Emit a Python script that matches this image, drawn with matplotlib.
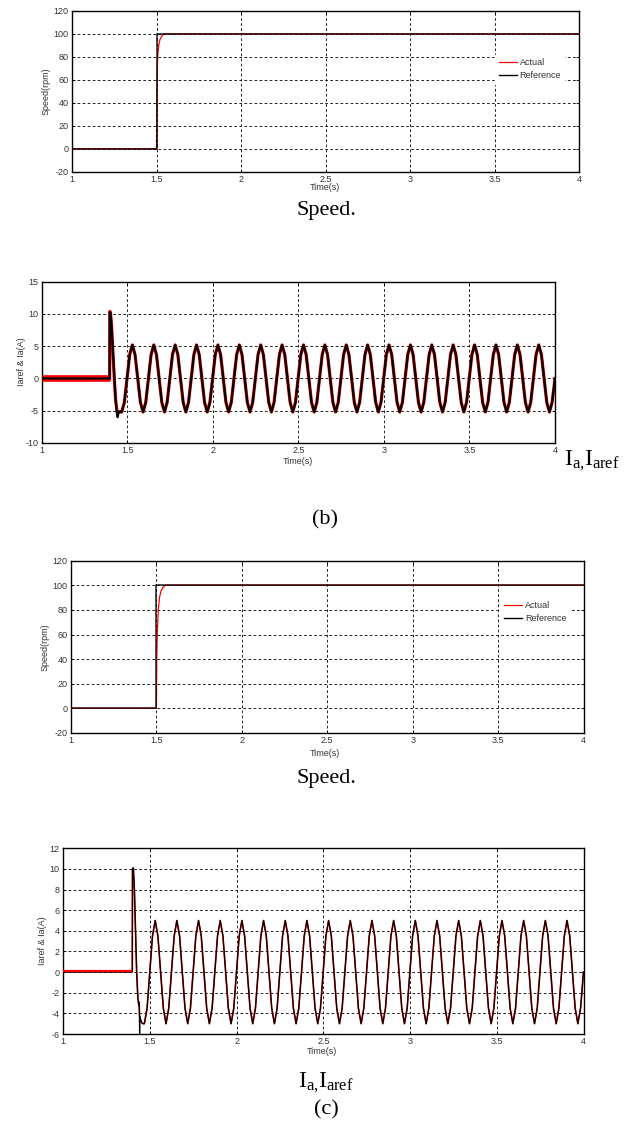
import matplotlib
matplotlib.use("Agg")
import matplotlib.pyplot as plt

plt.rcParams["axes.unicode_minus"] = False

W, H = 632, 1126

# ---- data ----
xticks = [1, 1.5, 2, 2.5, 3, 3.5, 4]
xtick_labels = ["1", "1.5", "2", "2.5", "3", "3.5", "4"]

# speed step, reference and actual
t_spd_ref = [1.0, 1.5, 1.5, 4.0]
spd_ref = [0, 0, 100, 100]
t_spd_b = [1.0, 1.5, 1.5015, 1.503, 1.507, 1.513, 1.52, 1.53, 1.545, 4.0]
spd_act_b = [0, 0, 40, 60, 80, 90, 95, 98, 100, 100]
t_spd_c = [1.0, 1.5, 1.502, 1.505, 1.511, 1.518, 1.526, 1.537, 1.552, 4.0]
spd_act_c = [0, 0, 40, 60, 80, 90, 95, 98, 100, 100]

# current start-up transient (before the steady oscillation)
t_tr_b = [1.0, 1.397, 1.398, 1.402, 1.408, 1.416, 1.424, 1.432, 1.440, 1.444, 1.450, 1.458]
iaref_tr_b = [0, 0, 10.3, 10.2, 8.3, 4.3, 0.0, -3.4, -5.5, -6.0, -5.1, -5.1]
ia_tr_b = [0, 0, 10.4, 10.2, 8.3, 4.3, 0.0, -3.3, -5.0, -5.2, -5.3, -5.2]

t_tr_c = [1.0, 1.398, 1.399, 1.404, 1.410, 1.417, 1.423, 1.430, 1.436, 1.438, 1.440, 1.442,
          1.446, 1.452, 1.460]
iaref_tr_c = [0, 0, 10.0, 10.1, 8.0, 3.5, 0.0, -2.5, -3.2, -2.9, -6.0, -4.3, -4.6, -4.9, -5.0]
ia_tr_c = [0.1, 0.1, 10.0, 10.1, 8.0, 3.5, 0.0, -2.5, -3.3, -3.3, -4.2, -4.5, -4.7, -4.9, -5.0]

# steady oscillation, sampled every 1/8 of a cycle (8 Hz)
t_wave = [
    1.4675, 1.4831, 1.4988, 1.5144, 1.5300, 1.5456, 1.5613, 1.5769,
    1.5925, 1.6081, 1.6238, 1.6394, 1.6550, 1.6706, 1.6863, 1.7019,
    1.7175, 1.7331, 1.7488, 1.7644, 1.7800, 1.7956, 1.8113, 1.8269,
    1.8425, 1.8581, 1.8738, 1.8894, 1.9050, 1.9206, 1.9363, 1.9519,
    1.9675, 1.9831, 1.9988, 2.0144, 2.0300, 2.0456, 2.0613, 2.0769,
    2.0925, 2.1081, 2.1238, 2.1394, 2.1550, 2.1706, 2.1863, 2.2019,
    2.2175, 2.2331, 2.2488, 2.2644, 2.2800, 2.2956, 2.3113, 2.3269,
    2.3425, 2.3581, 2.3738, 2.3894, 2.4050, 2.4206, 2.4363, 2.4519,
    2.4675, 2.4831, 2.4988, 2.5144, 2.5300, 2.5456, 2.5613, 2.5769,
    2.5925, 2.6081, 2.6238, 2.6394, 2.6550, 2.6706, 2.6863, 2.7019,
    2.7175, 2.7331, 2.7488, 2.7644, 2.7800, 2.7956, 2.8113, 2.8269,
    2.8425, 2.8581, 2.8738, 2.8894, 2.9050, 2.9206, 2.9363, 2.9519,
    2.9675, 2.9831, 2.9988, 3.0144, 3.0300, 3.0456, 3.0613, 3.0769,
    3.0925, 3.1081, 3.1238, 3.1394, 3.1550, 3.1706, 3.1863, 3.2019,
    3.2175, 3.2331, 3.2488, 3.2644, 3.2800, 3.2956, 3.3113, 3.3269,
    3.3425, 3.3581, 3.3738, 3.3894, 3.4050, 3.4206, 3.4363, 3.4519,
    3.4675, 3.4831, 3.4988, 3.5144, 3.5300, 3.5456, 3.5613, 3.5769,
    3.5925, 3.6081, 3.6238, 3.6394, 3.6550, 3.6706, 3.6863, 3.7019,
    3.7175, 3.7331, 3.7488, 3.7644, 3.7800, 3.7956, 3.8113, 3.8269,
    3.8425, 3.8581, 3.8738, 3.8894, 3.9050, 3.9206, 3.9363, 3.9519,
    3.9675, 3.9831, 4.0000,
]
ia_wave_b = [
    -5.2, -3.7, 0.0, 3.7, 5.2, 3.7, 0.0, -3.7,
    -5.2, -3.7, 0.0, 3.7, 5.2, 3.7, 0.0, -3.7,
    -5.2, -3.7, 0.0, 3.7, 5.2, 3.7, 0.0, -3.7,
    -5.2, -3.7, 0.0, 3.7, 5.2, 3.7, 0.0, -3.7,
    -5.2, -3.7, 0.0, 3.7, 5.2, 3.7, 0.0, -3.7,
    -5.2, -3.7, 0.0, 3.7, 5.2, 3.7, 0.0, -3.7,
    -5.2, -3.7, 0.0, 3.7, 5.2, 3.7, 0.0, -3.7,
    -5.2, -3.7, 0.0, 3.7, 5.2, 3.7, 0.0, -3.7,
    -5.2, -3.7, 0.0, 3.7, 5.2, 3.7, 0.0, -3.7,
    -5.2, -3.7, 0.0, 3.7, 5.2, 3.7, 0.0, -3.7,
    -5.2, -3.7, 0.0, 3.7, 5.2, 3.7, 0.0, -3.7,
    -5.2, -3.7, 0.0, 3.7, 5.2, 3.7, 0.0, -3.7,
    -5.2, -3.7, 0.0, 3.7, 5.2, 3.7, 0.0, -3.7,
    -5.2, -3.7, 0.0, 3.7, 5.2, 3.7, 0.0, -3.7,
    -5.2, -3.7, 0.0, 3.7, 5.2, 3.7, 0.0, -3.7,
    -5.2, -3.7, 0.0, 3.7, 5.2, 3.7, 0.0, -3.7,
    -5.2, -3.7, 0.0, 3.7, 5.2, 3.7, 0.0, -3.7,
    -5.2, -3.7, 0.0, 3.7, 5.2, 3.7, 0.0, -3.7,
    -5.2, -3.7, 0.0, 3.7, 5.2, 3.7, 0.0, -3.7,
    -5.2, -3.7, 0.0, 3.7, 5.2, 3.7, 0.0, -3.7,
    -5.2, -3.7, 0.0,
]
ia_wave_c = [
    -5.0, -3.5, 0.0, 3.5, 5.0, 3.5, 0.0, -3.5,
    -5.0, -3.5, 0.0, 3.5, 5.0, 3.5, 0.0, -3.5,
    -5.0, -3.5, 0.0, 3.5, 5.0, 3.5, 0.0, -3.5,
    -5.0, -3.5, 0.0, 3.5, 5.0, 3.5, 0.0, -3.5,
    -5.0, -3.5, 0.0, 3.5, 5.0, 3.5, 0.0, -3.5,
    -5.0, -3.5, 0.0, 3.5, 5.0, 3.5, 0.0, -3.5,
    -5.0, -3.5, 0.0, 3.5, 5.0, 3.5, 0.0, -3.5,
    -5.0, -3.5, 0.0, 3.5, 5.0, 3.5, 0.0, -3.5,
    -5.0, -3.5, 0.0, 3.5, 5.0, 3.5, 0.0, -3.5,
    -5.0, -3.5, 0.0, 3.5, 5.0, 3.5, 0.0, -3.5,
    -5.0, -3.5, 0.0, 3.5, 5.0, 3.5, 0.0, -3.5,
    -5.0, -3.5, 0.0, 3.5, 5.0, 3.5, 0.0, -3.5,
    -5.0, -3.5, 0.0, 3.5, 5.0, 3.5, 0.0, -3.5,
    -5.0, -3.5, 0.0, 3.5, 5.0, 3.5, 0.0, -3.5,
    -5.0, -3.5, 0.0, 3.5, 5.0, 3.5, 0.0, -3.5,
    -5.0, -3.5, 0.0, 3.5, 5.0, 3.5, 0.0, -3.5,
    -5.0, -3.5, 0.0, 3.5, 5.0, 3.5, 0.0, -3.5,
    -5.0, -3.5, 0.0, 3.5, 5.0, 3.5, 0.0, -3.5,
    -5.0, -3.5, 0.0, 3.5, 5.0, 3.5, 0.0, -3.5,
    -5.0, -3.5, 0.0, 3.5, 5.0, 3.5, 0.0, -3.5,
    -5.0, -3.5, 0.0,
]

SANS = ["Liberation Sans", "DejaVu Sans"]
SERIF = ["Liberation Serif", "DejaVu Serif"]
FS = 6.5
IA_LABEL = r"$\mathregular{I_{a{,}}I_{aref}}$"


def add_axes_px(fig, left, top, right, bottom):
    return fig.add_axes([left / W, 1 - bottom / H, (right - left) / W, (bottom - top) / H])


def style(ax, fig, ylim, yticks, xlab_xy, ylab_xy, ylabel):
    ax.set_xlim(1, 4)
    ax.set_ylim(*ylim)
    ax.set_xticks(xticks)
    ax.set_xticklabels(xtick_labels)
    ax.set_yticks(yticks)
    ax.grid(True, color="#222222", lw=0.7, linestyle=(0, (2.8, 2.4)))
    ax.set_axisbelow(True)
    ax.tick_params(direction="in", length=2.5, width=0.6, top=True, right=True,
                   labelsize=FS, labelcolor="#333333", pad=2.5)
    for lab in ax.get_xticklabels() + ax.get_yticklabels():
        lab.set_family(SANS)
    for sp in ax.spines.values():
        sp.set_linewidth(1.0)
    ax.set_xlabel("Time(s)", fontsize=FS, family=SANS, color="#333333")
    ax.xaxis.set_label_coords(xlab_xy[0] / W, 1 - xlab_xy[1] / H, transform=fig.transFigure)
    ax.xaxis.label.set_va("center")
    ax.set_ylabel(ylabel, fontsize=FS, family=SANS, color="#333333")
    ax.yaxis.set_label_coords(ylab_xy[0] / W, 1 - ylab_xy[1] / H, transform=fig.transFigure)
    ax.yaxis.label.set_va("center")


def speed_legend(ax, anchor):
    leg = ax.legend(loc="upper left", bbox_to_anchor=anchor, frameon=True,
                    fancybox=False, handlelength=2.0, handletextpad=0.35, labelspacing=0.45,
                    borderpad=0.35, borderaxespad=0, prop={"family": SANS, "size": FS})
    fr = leg.get_frame()
    fr.set_facecolor("white")
    fr.set_edgecolor("white")
    fr.set_alpha(1)
    for txt in leg.get_texts():
        txt.set_color("#333333")


fig = plt.figure(figsize=(W / 100, H / 100), dpi=100)

# ---- panel 1: speed ----
ax1 = add_axes_px(fig, 72, 11, 579, 171.7)
ax1.plot(t_spd_b, spd_act_b, color="red", lw=0.9, label="Actual", zorder=3)
ax1.plot(t_spd_ref, spd_ref, color="black", lw=1.3, alpha=0.75, zorder=4)
ax1.plot([], [], color="black", lw=1.0, label="Reference")
style(ax1, fig, (-20, 120), list(range(-20, 121, 20)), (325, 188), (46, 91.5), "Speed(rpm)")
speed_legend(ax1, (0.835, 0.725))
fig.text(326 / W, 1 - 211 / H, "Speed.", family=SERIF, fontsize=16, ha="center", va="center")

# ---- panel 2: phase current ----
ax2 = add_axes_px(fig, 41.7, 281.7, 555, 443)
ax2.plot(t_tr_b[:2], ia_tr_b[:2], color="red", lw=4.8, solid_capstyle="butt", zorder=3)
ax2.plot(t_tr_b[1:] + t_wave, ia_tr_b[1:] + ia_wave_b, color="red", lw=2.3, zorder=3)
ax2.plot(t_tr_b + t_wave, iaref_tr_b + ia_wave_b, color="black", lw=1.6, zorder=4)
style(ax2, fig, (-10, 15), list(range(-10, 16, 5)), (298, 461), (21.7, 362), "Iaref & Ia(A)")
fig.text(564 / W, 1 - 465 / H, IA_LABEL, family=SERIF, fontsize=17, ha="left", va="baseline")
fig.text(325 / W, 1 - 520 / H, "(b)", family=SERIF, fontsize=16, ha="center", va="center")

# ---- panel 3: speed ----
ax3 = add_axes_px(fig, 71, 560.7, 583.5, 733)
ax3.plot(t_spd_c, spd_act_c, color="red", lw=0.9, label="Actual", zorder=3)
ax3.plot(t_spd_ref, spd_ref, color="black", lw=1.3, alpha=0.75, zorder=4)
ax3.plot([], [], color="black", lw=1.0, label="Reference")
style(ax3, fig, (-20, 120), list(range(-20, 121, 20)), (325, 754), (45, 647), "Speed(rpm)")
speed_legend(ax3, (0.838, 0.785))
fig.text(326 / W, 1 - 778 / H, "Speed.", family=SERIF, fontsize=16, ha="center", va="center")

# ---- panel 4: phase current ----
ax4 = add_axes_px(fig, 63.3, 848.3, 583.5, 1034)
ax4.plot(t_tr_c[1:] + t_wave, ia_tr_c[1:] + ia_wave_c, color="red", lw=1.2, zorder=3)
ax4.plot(t_tr_c + t_wave, iaref_tr_c + ia_wave_c, color="black", lw=0.9, zorder=4)
ax4.plot(t_tr_c[:2], ia_tr_c[:2], color="red", lw=1.6, solid_capstyle="butt", zorder=5)
style(ax4, fig, (-6, 12), list(range(-6, 13, 2)), (322, 1052), (42.3, 941), "Iaref & Ia(A)")
fig.text(326 / W, 1 - 1083 / H, IA_LABEL, family=SERIF, fontsize=17, ha="center", va="center")
fig.text(326 / W, 1 - 1110 / H, "(c)", family=SERIF, fontsize=16, ha="center", va="center")

fig.savefig("out.png", dpi=100)
